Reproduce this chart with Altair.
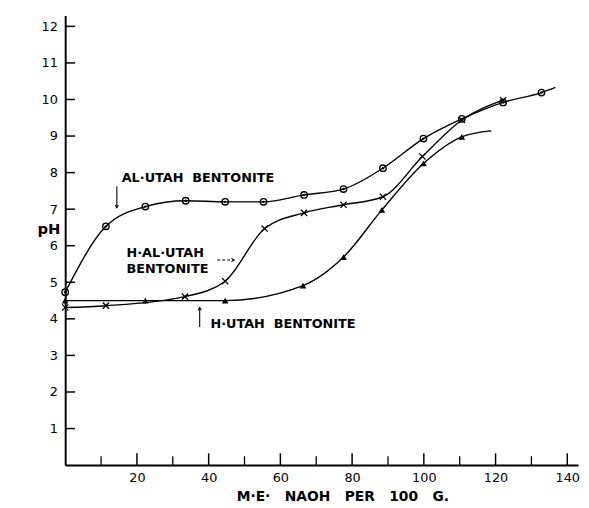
import altair as alt
import pandas as pd

# ---- data ----
al_x = [0, 11.35, 22.35, 33.6, 44.6, 55.3, 66.6, 77.6, 88.6, 99.9, 110.6, 122.1, 132.8]
al_y = [4.73, 6.53, 7.07, 7.23, 7.2, 7.2, 7.39, 7.55, 8.12, 8.93, 9.47, 9.92, 10.19]
al_tail_x = [136.7]
al_tail_y = [10.33]

hal_x = [0, 11.35, 33.4, 44.6, 55.6, 66.6, 77.6, 88.6, 99.6, 110.6, 122.1]
hal_y = [4.31, 4.36, 4.61, 5.03, 6.47, 6.9, 7.12, 7.34, 8.44, 9.44, 9.98]

hu_x = [0, 22.35, 44.6, 66.3, 77.6, 88.3, 99.9, 110.6]
hu_y = [4.5, 4.5, 4.5, 4.91, 5.69, 6.98, 8.25, 8.98]
hu_tail_x = [118.8]
hu_tail_y = [9.14]

x_label_values = [20, 40, 60, 80, 100, 120, 140]
x_minor_ticks = [10, 30, 50, 70, 90, 110, 130]
y_tick_values = [1, 2, 3, 4, 5, 6, 7, 8, 9, 10, 11, 12]

ann_text = ["AL·UTAH\u00a0\u00a0BENTONITE", "H·AL·UTAH", "BENTONITE", "H·UTAH\u00a0\u00a0BENTONITE"]
ann_x = [15.75, 17.1, 17.1, 40.5]
ann_y = [7.85, 5.80, 5.37, 3.86]

# arrows: shaft start (x1,y1) -> tip (x2,y2)
arr_x1 = [14.4, 42.4, 37.5]
arr_y1 = [7.63, 5.61, 3.78]
arr_x2 = [14.4, 47.1, 37.5]
arr_y2 = [7.04, 5.61, 4.31]
arr_head = ["M-0.6,-1L0,0L0.6,-1", "M-1,-0.6L0,0L-1,0.6", "M-0.6,1L0,0L0.6,1"]

# ---- tables ----
def frame(name, xs, ys):
    return pd.DataFrame({"series": name, "x": xs, "y": ys})

lines_df = pd.concat([
    frame("al", al_x + al_tail_x, al_y + al_tail_y),
    frame("hal", hal_x, hal_y),
    frame("hu", hu_x + hu_tail_x, hu_y + hu_tail_y),
], ignore_index=True)
al_df = frame("al", al_x, al_y)
hal_df = frame("hal", hal_x, hal_y)
hu_df = frame("hu", hu_x, hu_y)
ann_df = pd.DataFrame({"text": ann_text, "x": ann_x, "y": ann_y})
arr_df = pd.DataFrame({"x": arr_x1, "y": arr_y1, "x2": arr_x2, "y2": arr_y2, "head": arr_head})
solid_arr = arr_df.iloc[[0, 2]]
dash_arr = arr_df.iloc[[1]]
ytick_df = pd.DataFrame({"y": y_tick_values})
xmaj_df = pd.DataFrame({"x": x_label_values})
xmin_df = pd.DataFrame({"x": x_minor_ticks})

W, H = 520, 456
FONT = "DejaVu Sans"
xs = alt.Scale(domain=[0, 143], nice=False, zero=False)
ys = alt.Scale(domain=[0, 12.3], nice=False, zero=False)

SP = "\u00a0\u00a0\u00a0"
XT = f"M·E·{SP}NAOH{SP}PER{SP}100{SP}G."
x_axis = alt.Axis(values=x_label_values, ticks=False, tickSize=0, labelPadding=7,
                  grid=False, domainColor="black", domainWidth=2,
                  labelFont=FONT, labelFontSize=13, labelColor="black",
                  titleFont=FONT, titleFontSize=14, titleFontWeight="bold",
                  titleColor="black", titleX=281, titleY=32, titleBaseline="middle",
                  titleAlign="center")
y_axis = alt.Axis(values=y_tick_values, ticks=False, tickSize=0, labelPadding=8,
                  grid=False, domainColor="black", domainWidth=2,
                  labelFont=FONT, labelFontSize=13, labelColor="black",
                  titleFont=FONT, titleFontSize=15, titleFontWeight="bold",
                  titleColor="black", titleAngle=0, titleX=-17, titleY=216,
                  titleAlign="center", titleBaseline="middle")


def X(field="x"):
    return alt.X(f"{field}:Q", scale=xs, axis=x_axis, title=XT)


def Y(field="y"):
    return alt.Y(f"{field}:Q", scale=ys, axis=y_axis, title="pH")


lines = alt.Chart(lines_df).mark_line(interpolate="monotone", color="black", strokeWidth=1.4).encode(
    x=X(), y=Y(), detail="series:N")

circ = alt.Chart(al_df).mark_point(shape="circle", filled=False, size=42, color="black",
                                   strokeWidth=1.4, opacity=1).encode(x=X(), y=Y())
dots = alt.Chart(al_df).mark_point(shape="circle", filled=True, size=6, color="black",
                                   opacity=1).encode(x=X(), y=Y())
crosses = alt.Chart(hal_df).mark_point(shape="M-1,-1L1,1M-1,1L1,-1", filled=False, size=40,
                                       color="black", strokeWidth=1.3, opacity=1).encode(x=X(), y=Y())
tris = alt.Chart(hu_df).mark_point(shape="triangle-up", filled=True, size=45, color="black",
                                   opacity=1).encode(x=X(), y=Y())

ytk = alt.Chart(ytick_df).mark_rule(color="black", strokeWidth=1.5).encode(
    y=Y(), x=alt.value(0), x2=alt.value(10))
xmaj = alt.Chart(xmaj_df).mark_rule(color="black", strokeWidth=1.5).encode(
    x=X(), y=alt.value(H), y2=alt.value(H - 12))
xmin = alt.Chart(xmin_df).mark_rule(color="black", strokeWidth=1.3).encode(
    x=X(), y=alt.value(H), y2=alt.value(H - 9))

texts = alt.Chart(ann_df).mark_text(align="left", baseline="middle", font=FONT, fontSize=13,
                                    fontWeight="bold", color="black").encode(
    x=X(), y=Y(), text="text:N")

shaft = alt.Chart(solid_arr).mark_rule(color="black", strokeWidth=1.1).encode(
    x=X(), x2="x2:Q", y=Y(), y2="y2:Q")
shaft_d = alt.Chart(dash_arr).mark_rule(color="black", strokeWidth=1.1, strokeDash=[3, 2]).encode(
    x=X(), x2="x2:Q", y=Y(), y2="y2:Q")
heads = alt.Chart(arr_df).mark_point(filled=False, size=30, color="black", strokeWidth=1.1,
                                     opacity=1).encode(
    x=X("x2"), y=Y("y2"), shape=alt.Shape("head:N", scale=None, legend=None))

chart = alt.layer(lines, ytk, xmaj, xmin, circ, dots, crosses, tris, texts, shaft, shaft_d, heads).properties(
    width=W, height=H,
    autosize=alt.AutoSizeParams(type="none"),
    padding={"left": 58, "top": 4, "right": 3, "bottom": 40},
    background="white",
).configure_view(stroke=None)

chart.save("out.html", embed_options={"renderer": "svg", "actions": False})
